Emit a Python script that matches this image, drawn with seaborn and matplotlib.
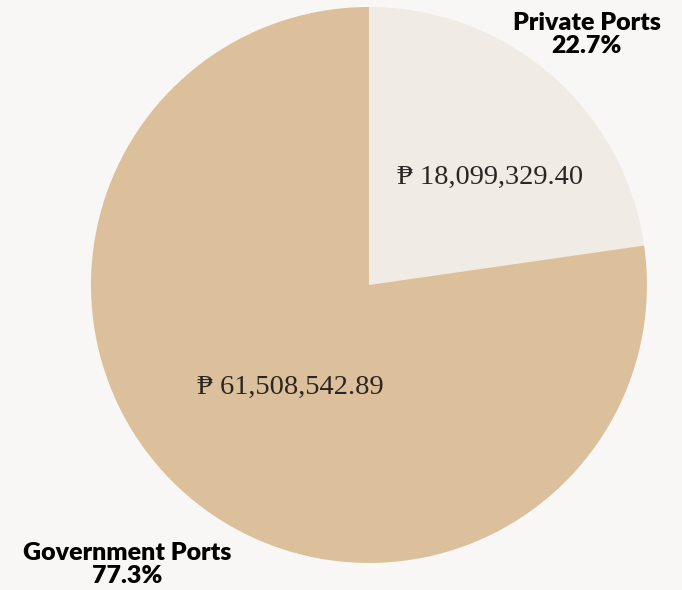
import numpy as np
import matplotlib.pyplot as plt
import seaborn as sns

categories = ["Private Ports", "Government Ports"]
amounts = [18099329.40, 61508542.89]
colors = ["#f0ebe5", "#dcc09b"]

sns.set_theme(style="white")
plt.rcParams['font.family'] = ['Lato', 'DejaVu Sans']

fig = plt.figure(figsize=(6.82, 5.90), dpi=100)
fig.patch.set_facecolor("#f8f7f5")
ax = fig.add_axes([0.1334, 0.0458, 0.8152, 0.9424])
ax.set_facecolor("#f8f7f5")

ax.pie(amounts, colors=colors, startangle=90, counterclock=False,
       wedgeprops=dict(linewidth=0))
ax.set_xlim(-1, 1)
ax.set_ylim(-1, 1)
ax.set_aspect("equal")
ax.axis("off")

total = sum(amounts)
pcts = [a / total * 100 for a in amounts]

# value labels inside the slices
value_pos = [(0.435, 0.388), (-0.284, -0.367)]
for (x, y), a in zip(value_pos, amounts):
    ax.text(x, y, "₱ {:,.2f}".format(a), ha="center", va="center",
            fontsize=20.5, color="#2a2623",
            family=['Liberation Serif', 'DejaVu Serif', 'DejaVu Sans'])

# category labels outside
label_pos = [(0.784, 0.90), (-0.87, -1.007)]
for (x, y), name, p in zip(label_pos, categories, pcts):
    ax.text(x, y, "{}\n{:.1f}%".format(name, p), ha="center", va="center",
            fontsize=18, fontweight="heavy", color="black",
            linespacing=1.05, clip_on=False)

fig.savefig("out.png", dpi=100, facecolor=fig.get_facecolor())
